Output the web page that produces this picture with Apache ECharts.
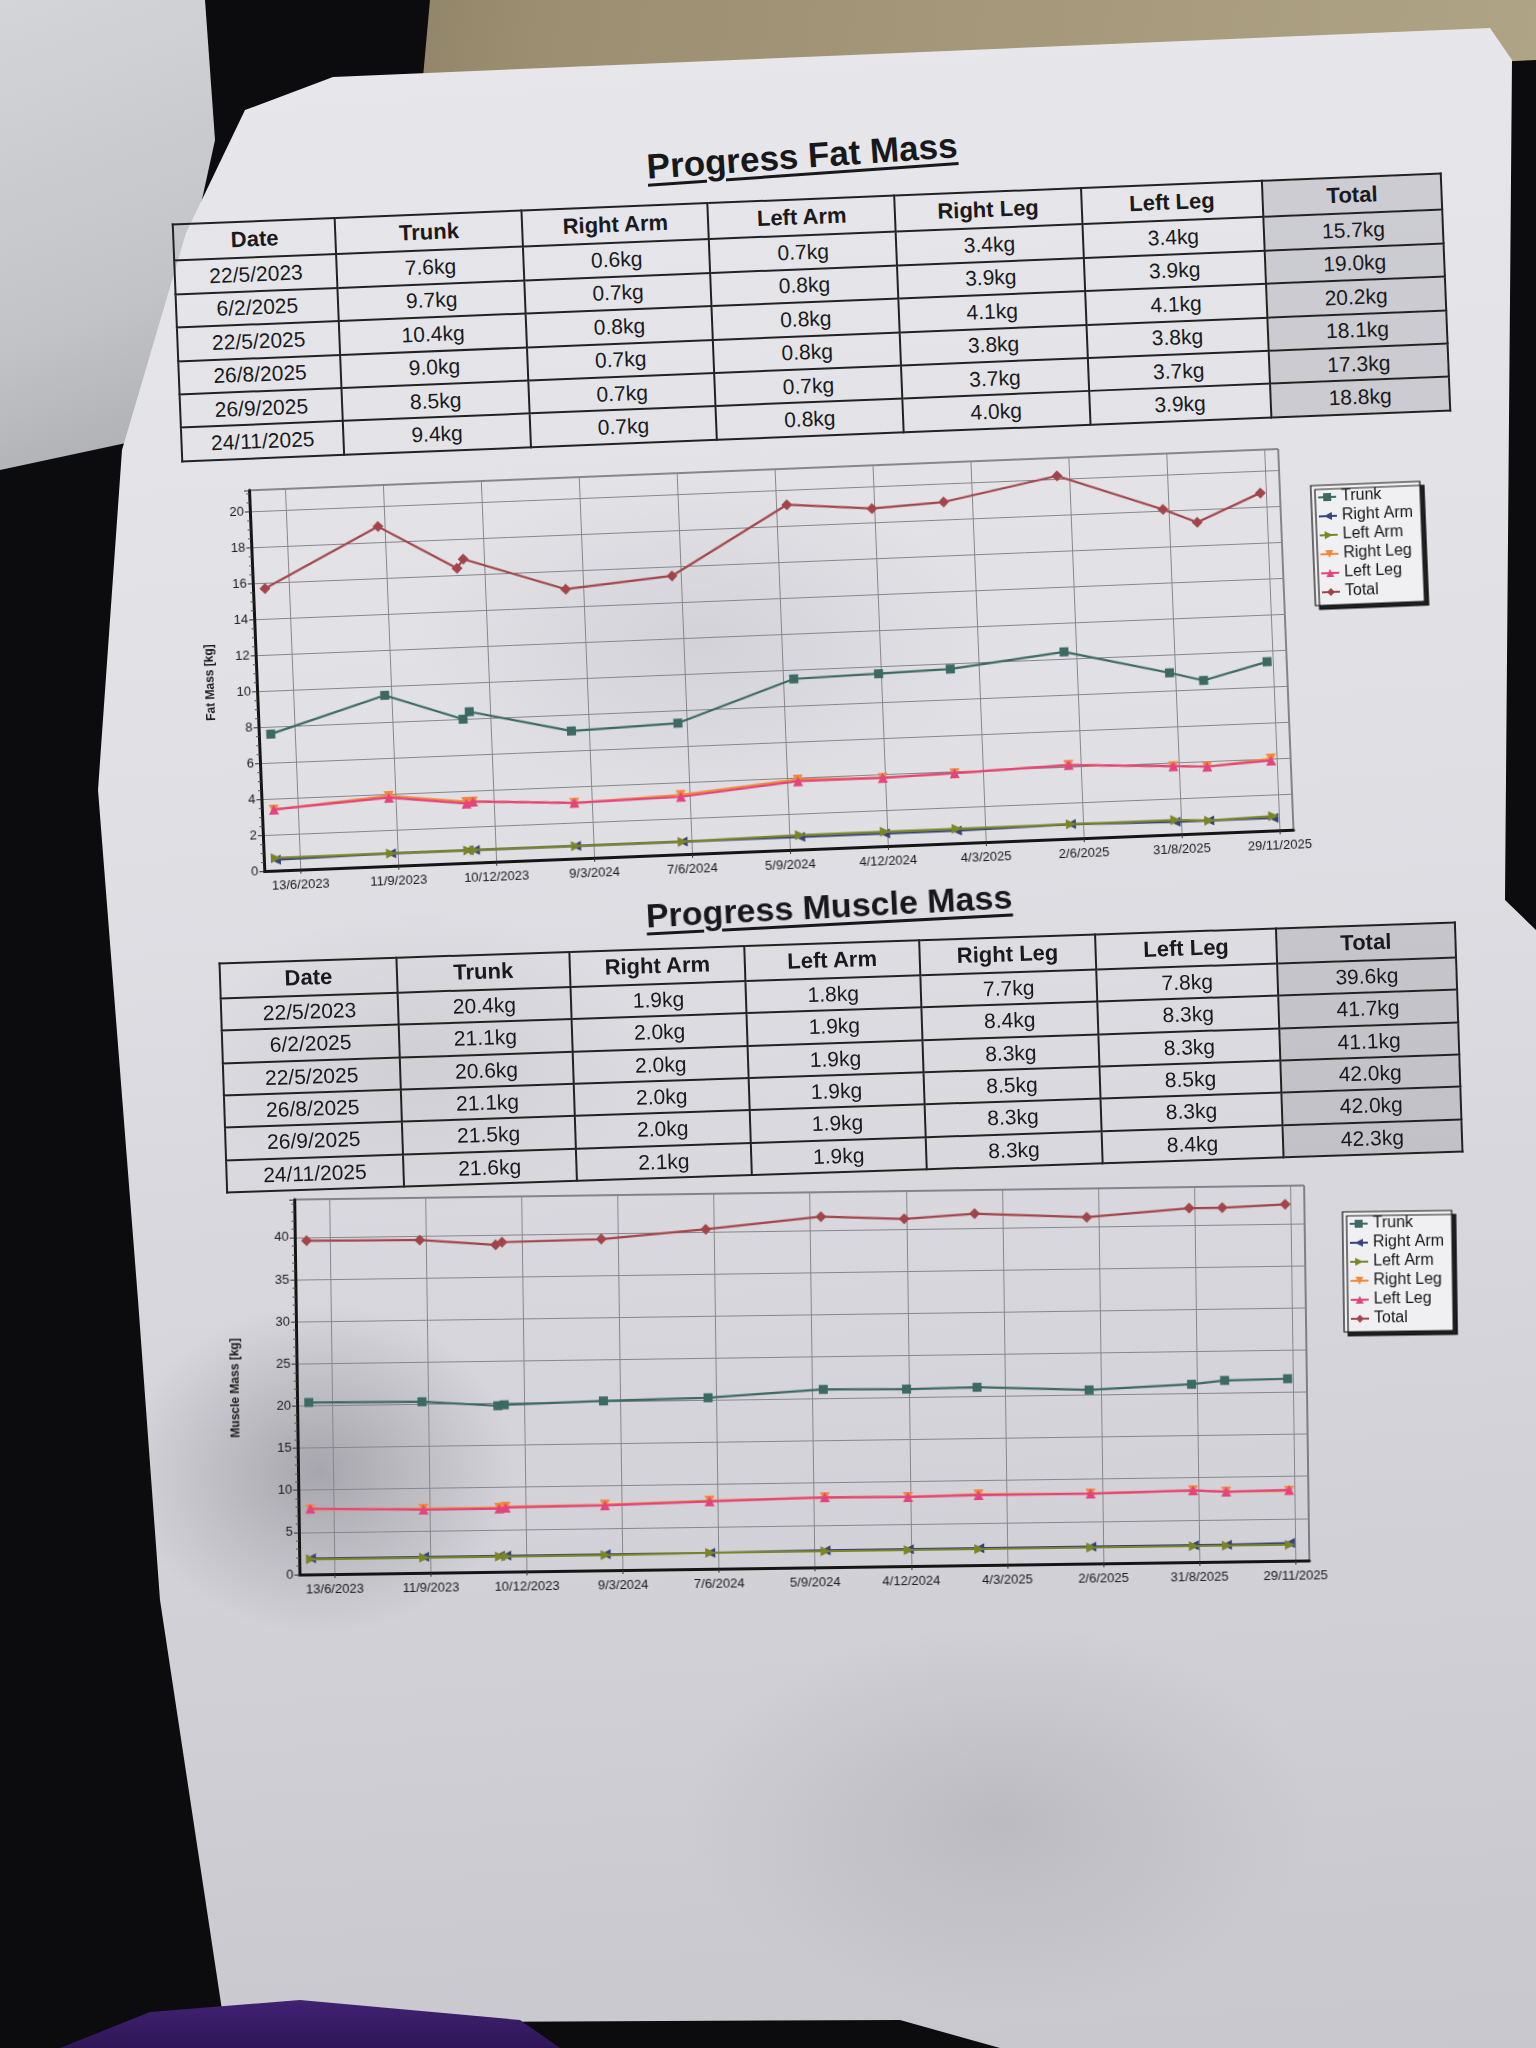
<!DOCTYPE html>
<html lang="en">
<head>
<meta charset="utf-8">
<title>Progress Fat Mass / Progress Muscle Mass</title>
<script src="https://cdn.jsdelivr.net/npm/echarts@6.0.0/dist/echarts.min.js"></script>
<style>
  html, body { margin: 0; padding: 0; }
  body {
    width: 1536px; height: 2048px; position: relative; overflow: hidden;
    background: #0c0c0e;
    font-family: "Liberation Sans", Arial, sans-serif;
    color: #1c1c1e;
  }
  .floor {
    position: absolute; left: 0; top: 0; width: 1536px; height: 140px;
    background: linear-gradient(100deg, #6f6653 0%, #9c8f71 35%, #b0a486 100%);
    clip-path: polygon(430px 0, 1536px 0, 1536px 60px, 420px 110px);
  }
  .receipt {
    position: absolute; left: 0; top: 0; width: 230px; height: 480px;
    background: linear-gradient(160deg, #d4d5d9 0%, #c3c4c8 60%, #a9aaae 100%);
    clip-path: polygon(0 0, 205px 0, 215px 140px, 180px 300px, 140px 440px, 0 470px);
  }
  .paper {
    position: absolute; left: 0; top: 0; width: 1536px; height: 2048px;
    background:
      radial-gradient(ellipse 260px 220px at 320px 1470px, rgba(60, 60, 70, 0.30), transparent 75%),
      radial-gradient(ellipse 420px 260px at 1000px 1820px, rgba(110, 110, 120, 0.18), transparent 75%),
      radial-gradient(ellipse 380px 220px at 700px 640px, rgba(120, 120, 130, 0.14), transparent 75%),
      radial-gradient(ellipse 300px 200px at 420px 1060px, rgba(120, 120, 130, 0.12), transparent 75%),
      linear-gradient(176deg, #e8e8ec 0%, #dfdfe4 40%, #d2d1d7 75%, #c8c7cd 100%);
    clip-path: polygon(333px 77px, 1490px 28px, 1512px 60px, 1505px 900px, 1536px 930px, 1536px 2048px,
      1000px 2048px, 900px 2020px, 440px 2022px, 222px 2010px, 160px 1600px, 138px 1300px,
      98px 790px, 122px 450px, 186px 233px, 245px 110px);
  }
  .purple {
    position: absolute; left: 0; top: 1990px; width: 600px; height: 58px;
    background: linear-gradient(180deg, #45247a, #2e1656);
    clip-path: polygon(60px 58px, 150px 22px, 300px 10px, 520px 30px, 560px 58px);
  }
  .title {
    position: absolute; margin: 0; text-align: center;
    font-weight: bold; line-height: 40px;
    text-decoration: underline; text-decoration-thickness: 3px; text-underline-offset: 5px;
    color: #18181a;
  }
  table.data {
    position: absolute; border-collapse: collapse; table-layout: fixed;
    border: 2px solid #222;
  }
  table.data th, table.data td {
    border: 2px solid #222; padding: 0; text-align: center;
    font-size: 21px; color: #1a1a1c; overflow: hidden; white-space: nowrap;
  }
  table.data th { font-weight: bold; font-size: 22px; }
  table.data .total { background: rgba(60, 60, 70, 0.14); }
  .chart { position: absolute; }
</style>
</head>
<body>
<div class="floor"></div>
<div class="receipt"></div>
<div class="paper"></div>
<div class="purple"></div>

<h2 class="title" style="left:552px; top:136px; width:500px; font-size:35px; transform:rotate(-4deg);">Progress Fat Mass</h2>
<table class="data" id="fatTable" style="left:176px; top:198px; width:1271px; height:239px; transform:rotate(-2.3deg);"></table>
<div class="chart" id="fatChart" style="left:190px; top:450px; width:1290px; height:455px; transform:rotate(-2.3deg);"></div>

<h2 class="title" style="left:574px; top:886px; width:510px; font-size:34px; transform:rotate(-3deg);">Progress Muscle Mass</h2>
<table class="data" id="muscleTable" style="left:222px; top:942px; width:1238px; height:231px; transform:rotate(-1.9deg);"></table>
<div class="chart" id="muscleChart" style="left:200px; top:1175px; width:1280px; height:440px; transform:rotate(-0.8deg);"></div>

<script>
// table columns
const tableColumns = ['Date', 'Trunk', 'Right Arm', 'Left Arm', 'Right Leg', 'Left Leg', 'Total'];
const fatColumnWidths = [12.8, 14.7, 14.7, 14.7, 14.7, 14.3, 14.1];
const muscleColumnWidths = [14.3, 14.0, 14.2, 14.1, 14.3, 14.6, 14.5];

// measurement dates listed in both tables
const tableDates = ['22/5/2023', '6/2/2025', '22/5/2025', '26/8/2025', '26/9/2025', '24/11/2025'];

// fat mass table (kg)
const fatTableTrunk = [7.6, 9.7, 10.4, 9.0, 8.5, 9.4];
const fatTableRightArm = [0.6, 0.7, 0.8, 0.7, 0.7, 0.7];
const fatTableLeftArm = [0.7, 0.8, 0.8, 0.8, 0.7, 0.8];
const fatTableRightLeg = [3.4, 3.9, 4.1, 3.8, 3.7, 4.0];
const fatTableLeftLeg = [3.4, 3.9, 4.1, 3.8, 3.7, 3.9];
const fatTableTotal = [15.7, 19.0, 20.2, 18.1, 17.3, 18.8];

// muscle mass table (kg)
const muscleTableTrunk = [20.4, 21.1, 20.6, 21.1, 21.5, 21.6];
const muscleTableRightArm = [1.9, 2.0, 2.0, 2.0, 2.0, 2.1];
const muscleTableLeftArm = [1.8, 1.9, 1.9, 1.9, 1.9, 1.9];
const muscleTableRightLeg = [7.7, 8.4, 8.3, 8.5, 8.3, 8.3];
const muscleTableLeftLeg = [7.8, 8.3, 8.3, 8.5, 8.3, 8.4];
const muscleTableTotal = [39.6, 41.7, 41.1, 42.0, 42.0, 42.3];

// every measurement drawn on the charts
const chartDates = ['2023-05-22', '2023-09-05', '2023-11-15', '2023-11-21', '2024-02-22', '2024-05-30',
  '2024-09-15', '2024-12-02', '2025-02-06', '2025-05-22', '2025-08-26', '2025-09-26', '2025-11-24'];

const fatTrunk = [7.6, 9.5, 8.0, 8.4, 7.1, 7.3, 9.5, 9.6, 9.7, 10.4, 9.0, 8.5, 9.4];
const fatRightArm = [0.6, 0.7, 0.7, 0.7, 0.7, 0.7, 0.7, 0.7, 0.7, 0.8, 0.7, 0.7, 0.7];
const fatLeftArm = [0.7, 0.7, 0.7, 0.7, 0.7, 0.7, 0.8, 0.8, 0.8, 0.8, 0.8, 0.7, 0.8];
const fatRightLeg = [3.4, 3.9, 3.4, 3.4, 3.1, 3.3, 3.9, 3.8, 3.9, 4.1, 3.8, 3.7, 4.0];
const fatLeftLeg = [3.4, 3.8, 3.3, 3.4, 3.1, 3.2, 3.8, 3.8, 3.9, 4.1, 3.8, 3.7, 3.9];
const fatTotal = [15.7, 18.9, 16.4, 16.9, 15.0, 15.5, 19.2, 18.8, 19.0, 20.2, 18.1, 17.3, 18.8];

const muscleTrunk = [20.4, 20.3, 19.7, 19.8, 20.1, 20.3, 21.1, 21.0, 21.1, 20.6, 21.1, 21.5, 21.6];
const muscleRightArm = [1.9, 1.9, 1.9, 1.9, 1.9, 1.9, 2.0, 2.0, 2.0, 2.0, 2.0, 2.0, 2.1];
const muscleLeftArm = [1.8, 1.8, 1.8, 1.8, 1.8, 1.9, 1.9, 1.9, 1.9, 1.9, 1.9, 1.9, 1.9];
const muscleRightLeg = [7.7, 7.6, 7.6, 7.7, 7.8, 8.1, 8.3, 8.2, 8.4, 8.3, 8.5, 8.3, 8.3];
const muscleLeftLeg = [7.8, 7.5, 7.5, 7.6, 7.7, 8.0, 8.3, 8.2, 8.3, 8.3, 8.5, 8.3, 8.4];
const muscleTotal = [39.6, 39.5, 38.8, 39.1, 39.3, 40.3, 41.6, 41.2, 41.7, 41.1, 42.0, 42.0, 42.3];

// x axis
const xTickDates = ['2023-06-13', '2023-09-11', '2023-12-10', '2024-03-09', '2024-06-07', '2024-09-05',
  '2024-12-04', '2025-03-04', '2025-06-02', '2025-08-31', '2025-11-29'];
const xAxisStart = '2023-05-11';
const xAxisEnd = '2025-12-12';

const seriesNames = ['Trunk', 'Right Arm', 'Left Arm', 'Right Leg', 'Left Leg', 'Total'];

// marker look per series, same order as seriesNames
const seriesStyles = [
  { color: '#3b6a62', symbol: 'rect', size: 9, rotate: 0 },
  { color: '#35437c', symbol: 'triangle', size: 10, rotate: 90 },
  { color: '#7a8526', symbol: 'triangle', size: 10, rotate: -90 },
  { color: '#f08a3a', symbol: 'triangle', size: 10, rotate: 180 },
  { color: '#e3447c', symbol: 'triangle', size: 10, rotate: 0 },
  { color: '#a2454a', symbol: 'diamond', size: 11, rotate: 0 }
];

function toTime(s) {
  const [y, m, d] = s.split('-').map(Number);
  return new Date(y, m - 1, d).getTime();
}

function formatDate(t) {
  const d = new Date(t);
  return d.getDate() + '/' + (d.getMonth() + 1) + '/' + d.getFullYear();
}

function renderTable(el, widths, columns) {
  let html = '<colgroup>' + widths.map(w => `<col style="width:${w}%">`).join('') + '</colgroup>';
  html += '<tr>' + tableColumns.map((c, i) =>
    `<th class="${i === tableColumns.length - 1 ? 'total' : ''}">${c}</th>`).join('') + '</tr>';
  tableDates.forEach((date, r) => {
    html += '<tr><td>' + date + '</td>';
    columns.forEach((col, i) => {
      const cls = i === columns.length - 1 ? ' class="total"' : '';
      html += `<td${cls}>${col[r].toFixed(1)}kg</td>`;
    });
    html += '</tr>';
  });
  el.innerHTML = html;
}

function buildOption(cfg) {
  // the printout uses 90-day ticks that do not sit on round numbers, so they are listed explicitly
  const xTicks = xTickDates.map(toTime);
  const gridLine = { show: true, lineStyle: { color: '#86868b', width: 1 } };

  return {
    animation: false,
    textStyle: { fontFamily: '"Liberation Sans", Arial, sans-serif' },
    grid: {
      left: cfg.grid[0], top: cfg.grid[1], width: cfg.grid[2], height: cfg.grid[3],
      show: true, borderColor: '#2a2a2a', borderWidth: 1,
      containLabel: false, outerBoundsMode: 'none'
    },
    legend: {
      data: seriesNames,
      orient: 'vertical',
      left: cfg.legend[0],
      top: cfg.legend[1],
      itemWidth: 18,
      itemHeight: 10,
      itemGap: 3,
      padding: [4, 8, 5, 6],
      backgroundColor: '#f0f0f3',
      borderColor: '#151515',
      borderWidth: 1.2,
      shadowColor: 'rgba(10,10,10,0.9)',
      shadowBlur: 0,
      shadowOffsetX: 4,
      shadowOffsetY: 4,
      textStyle: { fontSize: 16, color: '#161616' }
    },
    xAxis: {
      type: 'value',
      min: toTime(xAxisStart),
      max: toTime(xAxisEnd),
      axisLine: { show: true, onZero: false, lineStyle: { color: '#151515', width: 3 } },
      axisTick: { show: true, length: 4, customValues: xTicks, lineStyle: { color: '#333' } },
      axisLabel: {
        customValues: xTicks,
        formatter: formatDate,
        fontSize: 13,
        color: '#1a1a1a',
        margin: 9,
        hideOverlap: false
      },
      splitLine: gridLine
    },
    yAxis: {
      type: 'value',
      min: 0,
      max: cfg.yMax,
      interval: cfg.yInterval,
      name: cfg.yName,
      nameLocation: 'middle',
      nameGap: cfg.nameGap,
      nameTextStyle: { fontSize: 12, fontWeight: 'bold', color: '#1a1a1a' },
      axisLine: { show: true, lineStyle: { color: '#151515', width: 3 } },
      axisTick: { show: true, length: 5, lineStyle: { color: '#333' } },
      minorTick: { show: true, splitNumber: cfg.minorSplit, length: 3, lineStyle: { color: '#555' } },
      axisLabel: { fontSize: 13, color: '#1a1a1a', margin: 6, showMaxLabel: false },
      splitLine: gridLine
    },
    series: seriesNames.map((name, i) => ({
      name,
      type: 'line',
      data: chartDates.map((d, k) => [toTime(d), cfg.values[i][k]]),
      symbol: seriesStyles[i].symbol,
      symbolSize: seriesStyles[i].size,
      symbolRotate: seriesStyles[i].rotate,
      showAllSymbol: true,
      lineStyle: { width: 2.2, color: seriesStyles[i].color },
      itemStyle: { color: seriesStyles[i].color },
      z: 2 + i
    }))
  };
}

renderTable(document.getElementById('fatTable'), fatColumnWidths,
  [fatTableTrunk, fatTableRightArm, fatTableLeftArm, fatTableRightLeg, fatTableLeftLeg, fatTableTotal]);
renderTable(document.getElementById('muscleTable'), muscleColumnWidths,
  [muscleTableTrunk, muscleTableRightArm, muscleTableLeftArm, muscleTableRightLeg, muscleTableLeftLeg, muscleTableTotal]);

const fatChart = echarts.init(document.getElementById('fatChart'));
fatChart.setOption(buildOption({
  grid: [67, 17, 1030, 381],
  legend: [1128, 55],
  yMax: 21.2,
  yInterval: 2,
  minorSplit: 4,
  yName: 'Fat Mass [kg]',
  nameGap: 40,
  values: [fatTrunk, fatRightArm, fatLeftArm, fatRightLeg, fatLeftLeg, fatTotal]
}));

const muscleChart = echarts.init(document.getElementById('muscleChart'));
muscleChart.setOption(buildOption({
  grid: [97, 17, 1010, 375],
  legend: [1145, 44],
  yMax: 44.5,
  yInterval: 5,
  minorSplit: 5,
  yName: 'Muscle Mass [kg]',
  nameGap: 55,
  values: [muscleTrunk, muscleRightArm, muscleLeftArm, muscleRightLeg, muscleLeftLeg, muscleTotal]
}));
</script>
</body>
</html>
